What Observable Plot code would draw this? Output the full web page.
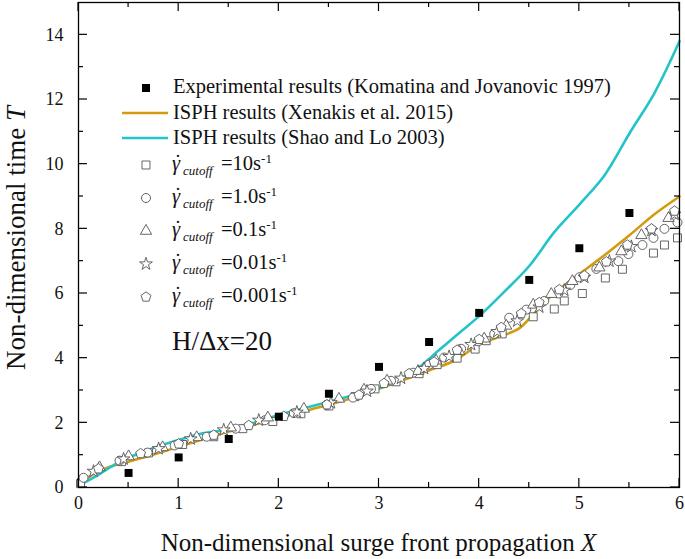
<!DOCTYPE html>
<html><head><meta charset="utf-8">
<script src="https://cdn.jsdelivr.net/npm/d3@7"></script>
<script src="https://cdn.jsdelivr.net/npm/@observablehq/plot@0.6"></script>
<style>
body{margin:0;background:#fff;}
#chart{position:relative;width:685px;height:559px;}
#chart svg text{font-family:"Liberation Serif","Times New Roman",serif !important;font-variant:normal !important;}
</style></head><body><div id="chart"></div>
<script>
// ---- data ----
const xTicks=[0,1,2,3,4,5,6];
const xMinor=[0.5,1.5,2.5,3.5,4.5,5.5];
const yTicks=[0,2,4,6,8,10,12,14];
const yMinor=[1,3,5,7,9,11,13];

const expX=[0.5,1,1.5,2,2.5,3,3.5,4,4.5,5,5.5];
const expT=[0.45,0.93,1.5,2.19,2.9,3.73,4.5,5.4,6.42,7.4,8.49];

const xenX=[0,0.1,0.2,0.3,0.5,0.75,1.0,1.25,1.5,1.75,2.0,2.25,2.5,2.75,3.0,3.25,3.5,3.75,4.0,4.2,4.4,4.5,4.6,4.7,4.85,5.0,5.25,5.5,5.75,6.0];
const xenT=[0.08,0.32,0.5,0.63,0.8,1.02,1.26,1.5,1.73,1.94,2.15,2.36,2.56,2.78,3.05,3.33,3.62,3.92,4.42,4.66,4.92,5.22,5.55,5.87,6.25,6.6,7.18,7.8,8.45,9.0];

const shaoX=[0,0.1,0.2,0.4,0.6,0.8,1.0,1.2,1.35,1.5,1.75,2.0,2.25,2.5,2.75,3.0,3.2,3.4,3.6,3.8,4.0,4.25,4.5,4.75,5.0,5.25,5.5,5.75,6.0];
const shaoT=[0.05,0.22,0.4,0.78,1.05,1.28,1.47,1.65,1.72,1.8,2.0,2.24,2.45,2.65,2.86,3.08,3.35,3.72,4.25,4.78,5.3,6.05,6.85,7.9,8.75,9.65,10.95,12.2,13.8];

const sqX=[0.02,0.43,0.7,1.04,1.35,1.64,1.94,2.22,2.5,2.76,2.96,3.17,3.4,3.58,3.78,3.96,4.07,4.23,4.54,4.75,4.85,5.03,5.26,5.43,5.74,5.85,5.98];
const sqT=[0.12,0.8,1.07,1.33,1.57,1.82,2.04,2.28,2.52,2.81,3.05,3.27,3.52,3.8,4.0,4.28,4.54,4.75,5.28,5.52,5.77,6.0,6.48,6.75,7.25,7.5,7.72];

const ciX=[0.05,0.41,0.69,0.96,1.28,1.57,1.86,2.15,2.48,2.74,2.92,3.12,3.34,3.5,3.65,3.82,3.99,4.15,4.3,4.47,4.65,4.79,4.91,5.0,5.17,5.39,5.49,5.63,5.74,5.85,5.98];
const ciT=[0.3,0.83,1.08,1.3,1.57,1.82,2.08,2.3,2.56,2.78,3.05,3.3,3.55,3.8,4.02,4.29,4.52,4.75,5.25,5.5,5.77,6.0,6.26,6.5,6.76,7.0,7.22,7.5,7.72,8.0,8.2];

const trX=[0.21,0.5,0.84,1.18,1.52,1.89,2.25,2.6,2.85,3.08,3.39,3.57,3.8,4.05,4.27,4.54,4.72,4.93,5.2,5.42,5.62,5.89];
const trT=[0.62,0.96,1.24,1.55,1.85,2.16,2.43,2.74,3.02,3.3,3.6,3.92,4.22,4.6,5.0,5.65,5.98,6.38,6.8,7.3,7.8,8.33];

const stX=[0.15,0.45,0.8,1.12,1.45,1.8,2.18,2.52,2.88,3.22,3.45,3.7,3.92,4.18,4.38,4.6,4.85,5.05,5.3,5.52,5.72,5.95];
const stT=[0.5,0.88,1.2,1.5,1.78,2.08,2.33,2.62,2.98,3.38,3.68,4.05,4.42,4.82,5.15,5.58,6.1,6.5,7.0,7.45,7.95,8.45];

const peX=[0.2,0.62,1.0,1.35,1.7,2.05,2.48,2.8,3.05,3.3,3.55,3.78,4.0,4.22,4.42,4.6,4.8,5.05,5.27,5.48,5.72,5.95];
const peT=[0.58,1.05,1.35,1.62,1.92,2.2,2.56,2.86,3.22,3.52,3.88,4.25,4.58,4.95,5.38,5.72,6.12,6.55,6.98,7.5,8.0,8.55];

const legendLabels=["Experimental results (Komatina and Jovanovic 1997)","ISPH results (Xenakis et al. 2015)","ISPH results (Shao and Lo 2003)"];
const cutoffLabels=["=10s","=1.0s","=0.1s","=0.01s","=0.001s"];

// ---- helpers ----
const zip=(xs,ys)=>xs.map((x,i)=>({x,y:ys[i]}));
const pentagon={draw(ctx,size){const r=Math.sqrt(size/(2.5*Math.sin(2*Math.PI/5)));for(let i=0;i<5;i++){const a=-Math.PI/2+i*2*Math.PI/5;const px=r*Math.cos(a),py=r*Math.sin(a);if(i)ctx.lineTo(px,py);else ctx.moveTo(px,py);}ctx.closePath();}};
const ORANGE="#d29c10", CYAN="#22c4c8", MK="#555";
const R=4.5;
const RS={square:4.5,circle:4.5,triangle:4.2,star:4.0,pent:4.5};
const hollow=(xs,ys,symbol,r)=>Plot.dot(zip(xs,ys),{x:"x",y:"y",symbol,r,fill:"white",stroke:MK,strokeWidth:0.9});

const W=685,H=559,ML=78,MR=6,MT=2,MB=72;
const FONT="Liberation Serif, Times New Roman, serif";

const plot=Plot.plot({
  width:W,height:H,marginLeft:ML,marginRight:MR,marginTop:MT,marginBottom:MB,
  x:{domain:[0,6]}, y:{domain:[0,15]},
  style:{fontFamily:FONT,fontSize:"18px",color:"#111",background:"white",overflow:"visible"},
  marks:[
    Plot.axisX(xTicks,{tickSize:0,tickPadding:9,fontSize:18,fontFamily:FONT,fontVariant:"normal",label:null}),
    Plot.axisY(yTicks,{tickSize:0,tickPadding:15,fontSize:18,fontFamily:FONT,fontVariant:"normal",label:null}),
    Plot.line(zip(xenX,xenT),{x:"x",y:"y",stroke:ORANGE,strokeWidth:2.6,curve:"catmull-rom"}),
    Plot.line(zip(shaoX,shaoT),{x:"x",y:"y",stroke:CYAN,strokeWidth:2.6,curve:"catmull-rom"}),
    hollow(sqX,sqT,"square",RS.square),
    hollow(ciX,ciT,"circle",RS.circle),
    hollow(trX,trT,"triangle",RS.triangle),
    hollow(stX,stT,"star",RS.star),
    hollow(peX,peT,pentagon,RS.pent),
    Plot.dot(zip(expX,expT),{x:"x",y:"y",symbol:"square",r:R,fill:"black",stroke:"none"}),
    Plot.frame({stroke:"black",strokeWidth:1.3})
  ]
});
document.getElementById("chart").appendChild(plot);

const svg=d3.select(plot);
svg.style("font-family",FONT);
svg.selectAll("[font-variant]").attr("font-variant",null);
svg.selectAll("text").style("font-family",FONT);

// ---- inward ticks on all sides, via plot scales ----
const sx=plot.scale("x"), sy=plot.scale("y");
const tg=svg.append("g").attr("stroke","black").attr("stroke-width",1.2);
const yb=H-MB, yt=MT, xl=ML, xr=W-MR;
function xt(v,len){const px=sx.apply(v);tg.append("line").attr("x1",px).attr("x2",px).attr("y1",yb).attr("y2",yb-len);tg.append("line").attr("x1",px).attr("x2",px).attr("y1",yt).attr("y2",yt+len);}
function ytk(v,len){const py=sy.apply(v);tg.append("line").attr("y1",py).attr("y2",py).attr("x1",xl).attr("x2",xl+len);tg.append("line").attr("y1",py).attr("y2",py).attr("x1",xr).attr("x2",xr-len);}
xTicks.forEach(v=>xt(v,9)); xMinor.forEach(v=>xt(v,5));
yTicks.forEach(v=>ytk(v,9)); yMinor.forEach(v=>ytk(v,5));

// ---- axis titles ----
const xtitle=svg.append("text").attr("x",(xl+xr)/2).attr("y",551).attr("text-anchor","middle")
  .attr("font-size",25).attr("fill","#111");
xtitle.append("tspan").text("Non-dimensional surge front propagation ");
xtitle.append("tspan").attr("font-style","italic").text("X");
const ytitle=svg.append("text").attr("transform",`translate(25,238) rotate(-90)`).attr("text-anchor","middle")
  .attr("font-size",27).attr("fill","#111");
ytitle.append("tspan").text("Non-dimensional time ");
ytitle.append("tspan").attr("font-style","italic").text("T");

// ---- annotation ----
svg.append("text").attr("x",172).attr("y",350).attr("text-anchor","start").attr("font-size",27).attr("fill","#111").text("H/\u0394x=20");

// ---- legend ----
const lg=svg.append("g").attr("fill","#111").attr("text-anchor","start");
const sym=(type,r,x,y,fill,stroke)=>lg.append("path").attr("d",d3.symbol().type(type).size(Math.PI*r*r)()).attr("transform",`translate(${x},${y})`).attr("fill",fill).attr("stroke",stroke).attr("stroke-width",0.9);
const TX=173;
sym(d3.symbolSquare,R,146,88,"black","none");
lg.append("text").attr("x",TX).attr("y",93).attr("font-size",20.5).text(legendLabels[0]);
lg.append("line").attr("x1",122).attr("x2",168).attr("y1",113).attr("y2",113).attr("stroke",ORANGE).attr("stroke-width",2.6);
lg.append("text").attr("x",TX).attr("y",119).attr("font-size",20.5).text(legendLabels[1]);
lg.append("line").attr("x1",122).attr("x2",168).attr("y1",138).attr("y2",138).attr("stroke",CYAN).attr("stroke-width",2.6);
lg.append("text").attr("x",TX).attr("y",144).attr("font-size",20.5).text(legendLabels[2]);
const types=[d3.symbolSquare,d3.symbolCircle,d3.symbolTriangle,d3.symbolStar,pentagon];
const trs=[RS.square,RS.circle,RS.triangle,RS.star,RS.pent];
const bases=[170,203,236,269,302];
bases.forEach((b,i)=>{
  sym(types[i],trs[i],146,b-5,"white",MK);
  const t=lg.append("text").attr("x",172).attr("y",b).attr("font-size",20.5);
  t.append("tspan").attr("font-style","italic").text("\u03b3");
  t.append("tspan").attr("x",174.5).attr("dy",-1).text("\u02d9");
  t.append("tspan").attr("x",183).attr("dy",6).attr("font-style","italic").attr("font-size",13).text("cutoff");
  t.append("tspan").attr("x",221).attr("dy",-5).text(cutoffLabels[i]);
  t.append("tspan").attr("font-size",13).attr("dy",-7).text("-1");
});
</script>
</body></html>
